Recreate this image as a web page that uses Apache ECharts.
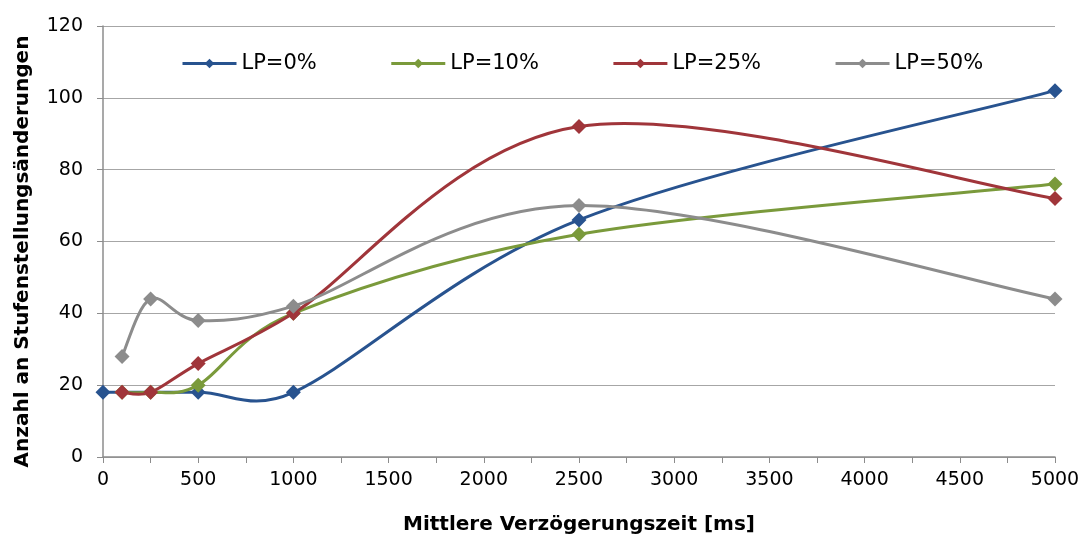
<!DOCTYPE html>
<html>
<head>
<meta charset="utf-8">
<script src="https://cdn.jsdelivr.net/npm/echarts@6/dist/echarts.min.js"></script>
<style>
  html, body { margin: 0; padding: 0; background: #fff; }
  #chart { width: 1081px; height: 534px; }
</style>
</head>
<body>
<div id="chart"></div>
<script>
// Daten
var seriesNames = ['LP=0%', 'LP=10%', 'LP=25%', 'LP=50%'];
var lp0 = [[0, 18], [500, 18], [1000, 18], [2500, 66], [5000, 102]];
var lp10 = [[100, 18], [250, 18], [500, 20], [1000, 40], [2500, 62], [5000, 76]];
var lp25 = [[100, 18], [250, 18], [500, 26], [1000, 40], [2500, 92], [5000, 72]];
var lp50 = [[100, 28], [250, 44], [500, 38], [1000, 42], [2500, 70], [5000, 44]];
var colors = ['#28538F', '#7A9A3B', '#A0353A', '#8C8C8C'];

var myChart = echarts.init(document.getElementById('chart'));

var fontName = 'DejaVu Sans, Liberation Sans, Arial, sans-serif';

// Glättung wie in Excel: Bezier, Kontrollpunkt = Nachbardifferenz / 6,
// höchstens halbe Segmentlänge
function dist(a, b) {
    return Math.sqrt((a[0] - b[0]) * (a[0] - b[0]) + (a[1] - b[1]) * (a[1] - b[1]));
}
function ctrlVec(a, b, maxLen) {
    var vx = (b[0] - a[0]) / 6, vy = (b[1] - a[1]) / 6;
    var len = Math.sqrt(vx * vx + vy * vy);
    if (len > maxLen && len > 0) {
        vx *= maxLen / len;
        vy *= maxLen / len;
    }
    return [vx, vy];
}
function smoothCurves(pts, color) {
    var children = [];
    for (var i = 0; i < pts.length - 1; i++) {
        var p0 = pts[i - 1] || pts[i];
        var p1 = pts[i];
        var p2 = pts[i + 1];
        var p3 = pts[i + 2] || pts[i + 1];
        var half = dist(p1, p2) / 2;
        var v1 = ctrlVec(p0, p2, half);
        var v2 = ctrlVec(p1, p3, half);
        children.push({
            type: 'bezierCurve',
            shape: {
                x1: p1[0], y1: p1[1],
                cpx1: p1[0] + v1[0], cpy1: p1[1] + v1[1],
                cpx2: p2[0] - v2[0], cpy2: p2[1] - v2[1],
                x2: p2[0], y2: p2[1]
            },
            style: { stroke: color, lineWidth: 3, fill: null }
        });
    }
    return { type: 'group', children: children };
}

function makeMarkers(name, data, color) {
    return {
        name: name,
        type: 'line',
        data: data,
        symbol: 'diamond',
        symbolSize: 15,
        lineStyle: { width: 3, color: color, opacity: 0 },
        itemStyle: { color: color },
        z: 4
    };
}

function makeCurve(name, data, color) {
    return {
        name: name,
        type: 'custom',
        data: data,
        encode: { x: 0, y: 1 },
        z: 3,
        renderItem: function (params, api) {
            if (params.dataIndex !== 0) return null;
            var pts = data.map(function (d) { return api.coord(d); });
            return smoothCurves(pts, color);
        }
    };
}

var labelFont = { fontFamily: fontName, fontSize: 19, color: '#000' };
var nameFont = { fontFamily: fontName, fontSize: 20, fontWeight: 'bold', color: '#000' };

var option = {
    animation: false,
    grid: { left: 103, right: 26, top: 26, bottom: 77, containLabel: false, outerBoundsMode: 'none' },
    legend: {
        left: 176,
        top: 48,
        itemWidth: 54,
        itemHeight: 12,
        itemGap: 73,
        textStyle: { fontFamily: fontName, fontSize: 21, color: '#000' },
        lineStyle: { opacity: 1, width: 3 },
        data: seriesNames
    },
    xAxis: {
        type: 'value',
        min: 0,
        max: 5000,
        interval: 500,
        name: 'Mittlere Verzögerungszeit [ms]',
        nameLocation: 'middle',
        nameGap: 58,
        nameTextStyle: nameFont,
        axisLine: { lineStyle: { color: '#8C8C8C', width: 1.5 } },
        axisTick: { show: true, length: 6, lineStyle: { color: '#8C8C8C' } },
        minorTick: { show: true, splitNumber: 2, length: 6, lineStyle: { color: '#8C8C8C' } },
        axisLabel: Object.assign({
            margin: 14,
            formatter: function (v) { return String(v); }
        }, labelFont),
        splitLine: { show: false }
    },
    yAxis: {
        type: 'value',
        min: 0,
        max: 120,
        interval: 20,
        name: 'Anzahl an Stufenstellungsänderungen',
        nameLocation: 'middle',
        nameGap: 70,
        nameTextStyle: Object.assign({ padding: [0, 20, 0, 0] }, nameFont),
        axisLine: { show: true, lineStyle: { color: '#8C8C8C', width: 1.5 } },
        axisTick: { show: true, length: 6, lineStyle: { color: '#8C8C8C' } },
        axisLabel: Object.assign({ margin: 20 }, labelFont),
        splitLine: { lineStyle: { color: '#A6A6A6', width: 1.2 } }
    },
    series: [
        makeMarkers(seriesNames[0], lp0, colors[0]),
        makeMarkers(seriesNames[1], lp10, colors[1]),
        makeMarkers(seriesNames[2], lp25, colors[2]),
        makeMarkers(seriesNames[3], lp50, colors[3]),
        makeCurve(seriesNames[0], lp0, colors[0]),
        makeCurve(seriesNames[1], lp10, colors[1]),
        makeCurve(seriesNames[2], lp25, colors[2]),
        makeCurve(seriesNames[3], lp50, colors[3])
    ]
};

myChart.setOption(option);
</script>
</body>
</html>
